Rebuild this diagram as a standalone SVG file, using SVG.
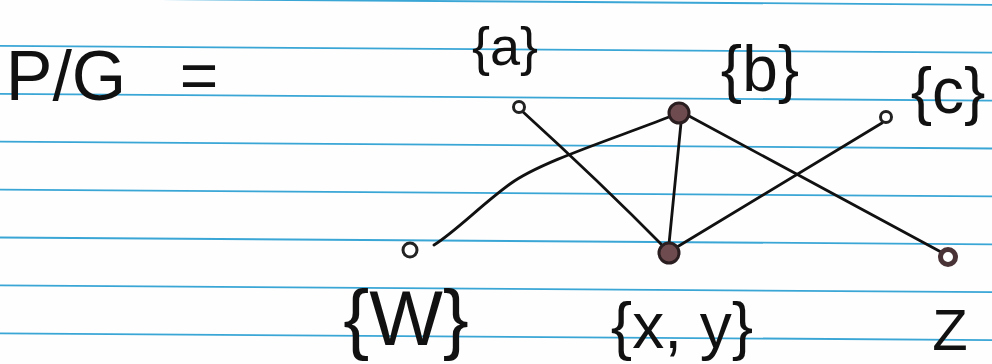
<svg xmlns="http://www.w3.org/2000/svg" width="992" height="364" viewBox="0 0 992 364">
<style>
.rule{stroke:#3aa6d6;stroke-width:1.8;fill:none}
.edge{stroke:#111;stroke-width:2.8;fill:none;stroke-linecap:round}
.lbl{font-family:"Liberation Sans","DejaVu Sans",sans-serif;fill:#111;text-anchor:middle}
.small{fill:#fff;stroke:#222;stroke-width:3}
.big{fill:#6e4b4f;stroke:#2a1e20;stroke-width:3}
</style>
<rect width="992" height="364" fill="#fefefe"/>
<g id="paper">
<line class="rule" x1="0" y1="-2" x2="992" y2="4.8"/>
<line class="rule" x1="0" y1="45.9" x2="992" y2="52.7"/>
<line class="rule" x1="0" y1="93.8" x2="992" y2="100.6"/>
<line class="rule" x1="0" y1="141.7" x2="992" y2="148.5"/>
<line class="rule" x1="0" y1="189.6" x2="992" y2="196.4"/>
<line class="rule" x1="0" y1="237.5" x2="992" y2="244.3"/>
<line class="rule" x1="0" y1="285.4" x2="992" y2="292.2"/>
<line class="rule" x1="0" y1="333.3" x2="992" y2="340.1"/>
</g>
<g id="title">
<text class="lbl" x="66" y="100" font-size="70">P/G</text>
<text class="lbl" x="199" y="98" font-size="66">=</text>
</g>
<g id="connectors">
<path class="edge" d="M522,111 Q600,182 665,248"/>
<path class="edge" d="M669,117 C610,140 540,162 510,184 S455,232 434,245"/>
<path class="edge" d="M681,123 L669,244"/>
<path class="edge" d="M689,116 L941,252"/>
<path class="edge" d="M882,123 L677,247"/>
</g>
<g id="node-a">
<circle class="small" cx="519" cy="107" r="5.5"/>
<text class="lbl" x="505" y="65" font-size="54">{a}</text>
</g>
<g id="node-b">
<circle class="big" cx="679" cy="113" r="10"/>
<text class="lbl" x="760" y="91" font-size="64">{b}</text>
</g>
<g id="node-c">
<circle class="small" cx="886" cy="117" r="5.5"/>
<text class="lbl" x="948" y="113" font-size="64">{c}</text>
</g>
<g id="node-w">
<circle class="small" cx="410" cy="250" r="7"/>
<text class="lbl" x="406" y="345" font-size="78">{W}</text>
</g>
<g id="node-xy">
<circle class="big" cx="669" cy="253" r="10"/>
<text class="lbl" x="682" y="348" font-size="64">{x, y}</text>
</g>
<g id="node-z">
<circle cx="948" cy="257" r="7.5" fill="#fff" stroke="#4a3336" stroke-width="5"/>
<text class="lbl" x="950" y="350" font-size="58">Z</text>
</g>
</svg>
